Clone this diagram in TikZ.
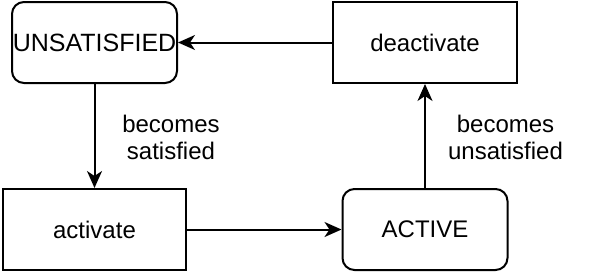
\documentclass[tikz,border=0pt]{standalone}
\usepackage{fontspec}
\setmainfont{Liberation Sans}
\usetikzlibrary{positioning, arrows.meta}

\begin{document}
\begin{tikzpicture}[
  x=1pt, y=-1pt,
  font=\fontsize{24}{27}\selectfont,
  state/.style={draw, rounded corners=12pt, line width=2pt, align=center, inner sep=0pt, minimum width=165pt, minimum height=81pt},
  action/.style={draw, line width=2pt, align=center, inner sep=0pt, minimum width=184pt, minimum height=81pt},
  cond/.style={align=center, inner sep=0pt},
  arr/.style={-{Stealth[length=17pt, width=15pt, inset=5pt]}, line width=2pt}
]
\useasboundingbox (0,0) rectangle (604,273);
\node[state, font=\fontsize{25}{27}\selectfont] (unsat) at (94.5,42.5) {UNSATISFIED};
\node[action, right=154pt of unsat] (deact) {deactivate};
\node[action, below=104pt of unsat, minimum width=183pt] (act) {activate};
\node[state, right=154.5pt of act] (active) {ACTIVE};
\draw[arr] (deact)--(unsat);
\draw[arr] (unsat)--(act);
\draw[arr] (act)--(active);
\draw[arr] (active)--(deact);
\node[cond] (sat) at (171,137) {becomes\\satisfied};
\node[cond] (unsatcond) at (505.5,137) {becomes\\unsatisfied};
\end{tikzpicture}
\end{document}
